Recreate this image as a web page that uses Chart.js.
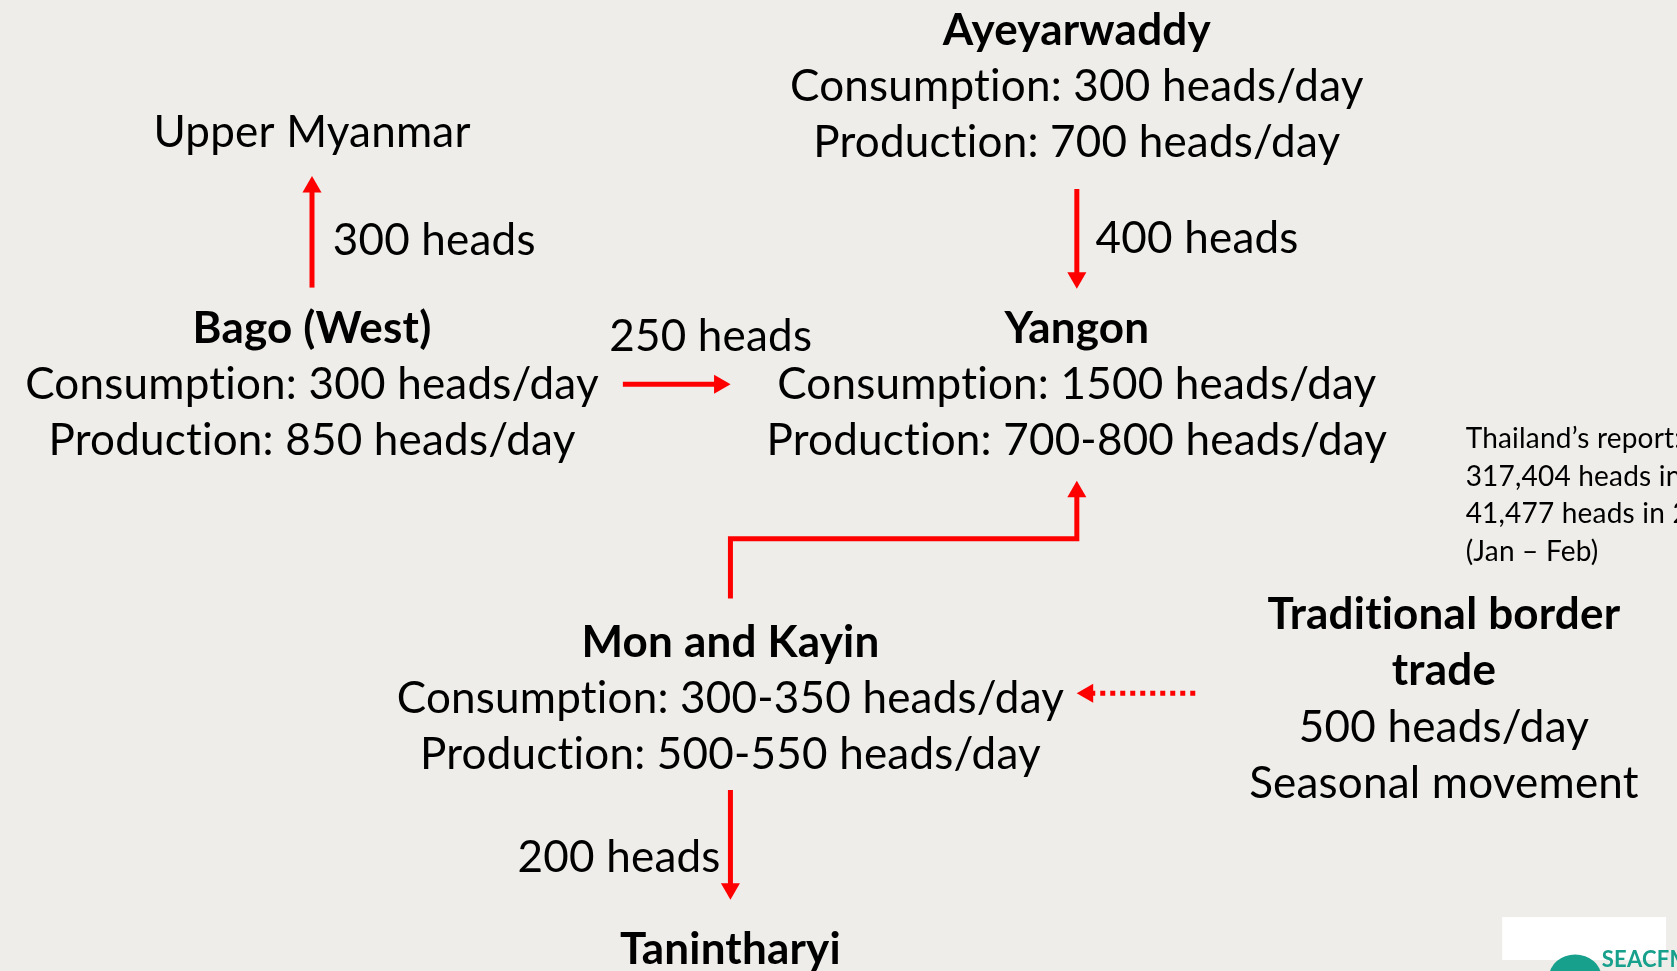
<!DOCTYPE html>
<html>
<head>
<meta charset="utf-8">
<script src="https://cdn.jsdelivr.net/npm/chart.js@4.4.1/dist/chart.umd.min.js"></script>
<style>
  html, body { margin: 0; padding: 0; background: #eeede9; overflow: hidden; }
  canvas { display: block; }
</style>
</head>
<body>
<canvas id="chart" width="1677" height="971"></canvas>
<script>
// ---- data ----
const nodeNames = ['Ayeyarwaddy', 'Bago (West)', 'Yangon', 'Mon and Kayin'];
const consumption = ['300', '300', '1500', '300-350'];
const production = ['700', '850', '700-800', '500-550'];
const endNames = ['Upper Myanmar', 'Tanintharyi'];
const flowHeads = [300, 400, 250, 200];
const borderLines = ['Traditional border', 'trade', '500 heads/day', 'Seasonal movement'];
const thaiReport = ['Thailand\u2019s report:', '317,404 heads in 2015', '41,477 heads in 2016', '(Jan \u2013 Feb)'];

// ---- layout (page units, y grows down) ----
const W = 1677, H = 971;
const lineGap = 57.5;
const nodePos = [[1080, 20], [305, 325], [1080, 325], [729, 646]];
const endPos = [[305, 125], [729, 961]];
const endBold = [false, true];
const flowPaths = [
    [[305, 283], [305, 169]],
    [[1080, 182], [1080, 284]],
    [[620, 382], [729, 382]],
    [[729, 797], [729, 909]],
    [[729, 601], [729, 540], [1080, 540], [1080, 481]],
    [[1200, 698], [1080, 698]]
];
const flowDotted = [false, false, false, false, false, true];
const flowLabelPos = [[326, 235, 'left'], [1099, 233, 'left'], [709, 333, 'center'], [719, 866, 'right']];
const borderPos = [1452, 618];
const thaiPos = [1474, 438];

const RED = '#ff0000';
const HEAD_R = 11;
const FONT = 'Lato, "Open Sans", sans-serif';
const SIZE = 44;

function headFor(path) {
    const a = path[path.length - 2], b = path[path.length - 1];
    const dx = b[0] - a[0], dy = b[1] - a[1];
    const len = Math.hypot(dx, dy);
    const ux = dx / len, uy = dy / len;
    const rot = Math.atan2(ux, -uy) * 180 / Math.PI;
    return { x: b[0] - ux * HEAD_R, y: b[1] - uy * HEAD_R, rot };
}

const datasets = [];
flowPaths.forEach((path, i) => {
    const h = headFor(path);
    const pts = path.slice(0, -1).map(p => ({ x: p[0], y: p[1] }));
    pts.push({ x: h.x, y: h.y });
    datasets.push({
        data: pts,
        showLine: true,
        borderColor: RED,
        borderWidth: 5,
        borderDash: flowDotted[i] ? [5, 5] : [],
        borderCapStyle: 'butt',
        borderJoinStyle: 'miter',
        pointRadius: 0,
        tension: 0
    });
});
const heads = flowPaths.map(headFor);
datasets.push({
    data: heads.map(h => ({ x: h.x, y: h.y })),
    showLine: false,
    pointStyle: 'triangle',
    pointRadius: HEAD_R,
    pointRotation: heads.map(h => h.rot),
    pointBackgroundColor: RED,
    pointBorderColor: RED,
    pointBorderWidth: 0
});

const textPlugin = {
    id: 'texts',
    beforeDraw(chart) {
        const c = chart.ctx;
        c.save();
        c.fillStyle = '#eeede9';
        c.fillRect(0, 0, chart.width, chart.height);
        c.restore();
    },
    afterDatasetsDraw(chart) {
        const c = chart.ctx;
        const xs = chart.scales.x, ys = chart.scales.y;
        const px = v => xs.getPixelForValue(v);
        const py = v => ys.getPixelForValue(v);
        const put = (txt, x, y, bold, size, align) => {
            c.font = (bold ? 'bold ' : '') + size + 'px ' + FONT;
            c.textAlign = align || 'center';
            c.textBaseline = 'middle';
            c.fillStyle = '#000';
            c.fillText(txt, px(x), py(y));
        };
        c.save();
        // no "ti" ligatures
        if ('letterSpacing' in c) c.letterSpacing = '0.2px';
        nodeNames.forEach((n, i) => {
            const [x, y] = nodePos[i];
            put(n, x, y, true, SIZE);
            put('Consumption: ' + consumption[i] + ' heads/day', x, y + lineGap, false, SIZE);
            put('Production: ' + production[i] + ' heads/day', x, y + lineGap * 2, false, SIZE);
        });
        endNames.forEach((n, i) => put(n, endPos[i][0], endPos[i][1], endBold[i], SIZE));
        flowHeads.forEach((v, i) => {
            const [x, y, al] = flowLabelPos[i];
            put(v + ' heads', x, y, false, SIZE, al);
        });
        borderLines.forEach((t, i) => put(t, borderPos[0], borderPos[1] + i * lineGap, i < 2, SIZE));
        thaiReport.forEach((t, i) => put(t, thaiPos[0], thaiPos[1] + i * 38.5, false, 28, 'left'));

        // logo corner
        c.fillStyle = '#ffffff';
        c.fillRect(px(1511), py(927), px(W) - px(1511), py(H) - py(927));
        c.fillStyle = '#17a08c';
        c.beginPath();
        c.ellipse(px(1585), py(988), 26, 22, 0, 0, Math.PI * 2);
        c.fill();
        c.font = 'bold 22px ' + FONT;
        c.textAlign = 'left';
        c.textBaseline = 'alphabetic';
        c.fillText('SEACFMD', px(1612), py(978));
        c.restore();
    }
};

const chart = new Chart(document.getElementById('chart').getContext('2d'), {
    type: 'scatter',
    data: { datasets },
    options: {
        responsive: false,
        animation: false,
        devicePixelRatio: 1,
        events: [],
        layout: { padding: 0 },
        plugins: { legend: { display: false }, tooltip: { enabled: false } },
        scales: {
            x: { type: 'linear', min: 0, max: W, display: false },
            y: { type: 'linear', min: 0, max: H, reverse: true, display: false }
        }
    },
    plugins: [textPlugin]
});
</script>
</body>
</html>
